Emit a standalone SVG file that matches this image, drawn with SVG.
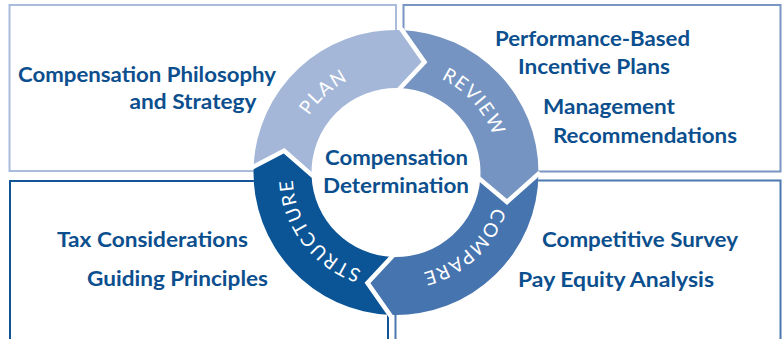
<svg xmlns="http://www.w3.org/2000/svg" width="782" height="339" viewBox="0 0 782 339">
<style>
.box{fill:none;stroke-width:2}
.t{font-family:Lato,"Open Sans",sans-serif;font-weight:700;font-size:21px;fill:#0c4f8e}
.c{font-size:20px}
.lbl{font-family:Lato,"Open Sans",sans-serif;font-weight:400;font-size:19px;fill:#ffffff;letter-spacing:1.5px}
.gap{fill:none;stroke:#ffffff;stroke-width:4.5;stroke-linejoin:miter}
</style>
<defs>
<path id="arcPlan" d="M301.43 210.71 A101 101 0 0 1 443.89 82.44"/>
<path id="arcReview" d="M357.79 77.93 A101 101 0 0 1 486.06 220.39"/>
<path id="arcCompare" d="M490.24 133.47 A101 101 0 0 1 348.90 262.98"/>
<path id="arcStructure" d="M425.82 270.04 A101 101 0 0 1 310.46 116.95"/>
</defs>
<rect width="782" height="339" fill="#ffffff"/>
<g id="box-philosophy">
<rect class="box" x="9.5" y="5" width="386.5" height="166" stroke="#a9bcdb"/>
<text class="t" x="18" y="82" textLength="258" lengthAdjust="spacingAndGlyphs">Compensation Philosophy</text>
<text class="t" x="129.5" y="108.5" textLength="127" lengthAdjust="spacingAndGlyphs">and Strategy</text>
</g>
<g id="box-incentive">
<rect class="box" x="403.5" y="5" width="377" height="166.5" stroke="#7895c3"/>
<text class="t" x="495" y="46" textLength="195" lengthAdjust="spacingAndGlyphs">Performance-Based</text>
<text class="t" x="518" y="74" textLength="152" lengthAdjust="spacingAndGlyphs">Incentive Plans</text>
<text class="t" x="543" y="114" textLength="132" lengthAdjust="spacingAndGlyphs">Management</text>
<text class="t" x="553" y="142.5" textLength="184" lengthAdjust="spacingAndGlyphs">Recommendations</text>
</g>
<g id="box-tax">
<rect class="box" x="10" y="181" width="378" height="170" stroke="#115597"/>
<text class="t" x="57" y="246.5" textLength="191" lengthAdjust="spacingAndGlyphs">Tax Considerations</text>
<text class="t" x="87" y="286" textLength="181" lengthAdjust="spacingAndGlyphs">Guiding Principles</text>
</g>
<g id="box-survey">
<rect class="box" x="395.5" y="180.5" width="385" height="170" stroke="#4a77b0"/>
<text class="t" x="542" y="246.5" textLength="196" lengthAdjust="spacingAndGlyphs">Competitive Survey</text>
<text class="t" x="518" y="286.5" textLength="196" lengthAdjust="spacingAndGlyphs">Pay Equity Analysis</text>
</g>
<circle cx="396" cy="172.5" r="142.5" fill="#ffffff"/>
<g id="seg-plan">
<path fill="#a4b7d8" d="M253.59 167.53 A142.5 142.5 0 0 1 400.97 30.09 L424.54 62.13 L398.95 88.05 A84.5 84.5 0 0 0 311.58 176.19 L284.09 150.75 Z"/>
<text class="lbl"><textPath href="#arcPlan" startOffset="50%" text-anchor="middle">PLAN</textPath></text>
</g>
<g id="seg-review">
<path fill="#7594c2" d="M400.97 30.09 A142.5 142.5 0 0 1 538.5 172.5 L507 202 L480.29 178.39 A84.5 84.5 0 0 0 398.95 88.05 L424.54 62.13 Z"/>
<text class="lbl"><textPath href="#arcReview" startOffset="50%" text-anchor="middle">REVIEW</textPath></text>
</g>
<g id="seg-compare">
<path fill="#4674af" d="M538.5 172.5 A142.5 142.5 0 0 1 391.03 314.91 L367.46 282.87 L393.05 256.95 A84.5 84.5 0 0 0 480.29 178.39 L507 202 Z"/>
<text class="lbl"><textPath href="#arcCompare" startOffset="50%" text-anchor="middle">COMPARE</textPath></text>
</g>
<g id="seg-structure">
<path fill="#0b5596" d="M391.03 314.91 A142.5 142.5 0 0 1 253.59 167.53 L284.09 150.75 L311.58 176.19 A84.5 84.5 0 0 0 393.05 256.95 L367.46 282.87 Z"/>
<text class="lbl"><textPath href="#arcStructure" startOffset="50%" text-anchor="middle">STRUCTURE</textPath></text>
</g>
<g id="ring-gaps">
<polyline class="gap" points="401.03,28.59 424.54,62.13 398.90,89.55"/>
<polyline class="gap" points="540,172.5 507,202 478.80,178.29"/>
<polyline class="gap" points="390.97,316.41 367.46,282.87 393.10,255.45"/>
<polyline class="gap" points="252.09,167.47 284.09,150.75 313.08,176.12"/>
</g>
<g id="center">
<text class="t c" x="325" y="165" textLength="143" lengthAdjust="spacingAndGlyphs">Compensation</text>
<text class="t c" x="323" y="192.5" textLength="146" lengthAdjust="spacingAndGlyphs">Determination</text>
</g>
<g id="connectors"/>
</svg>
